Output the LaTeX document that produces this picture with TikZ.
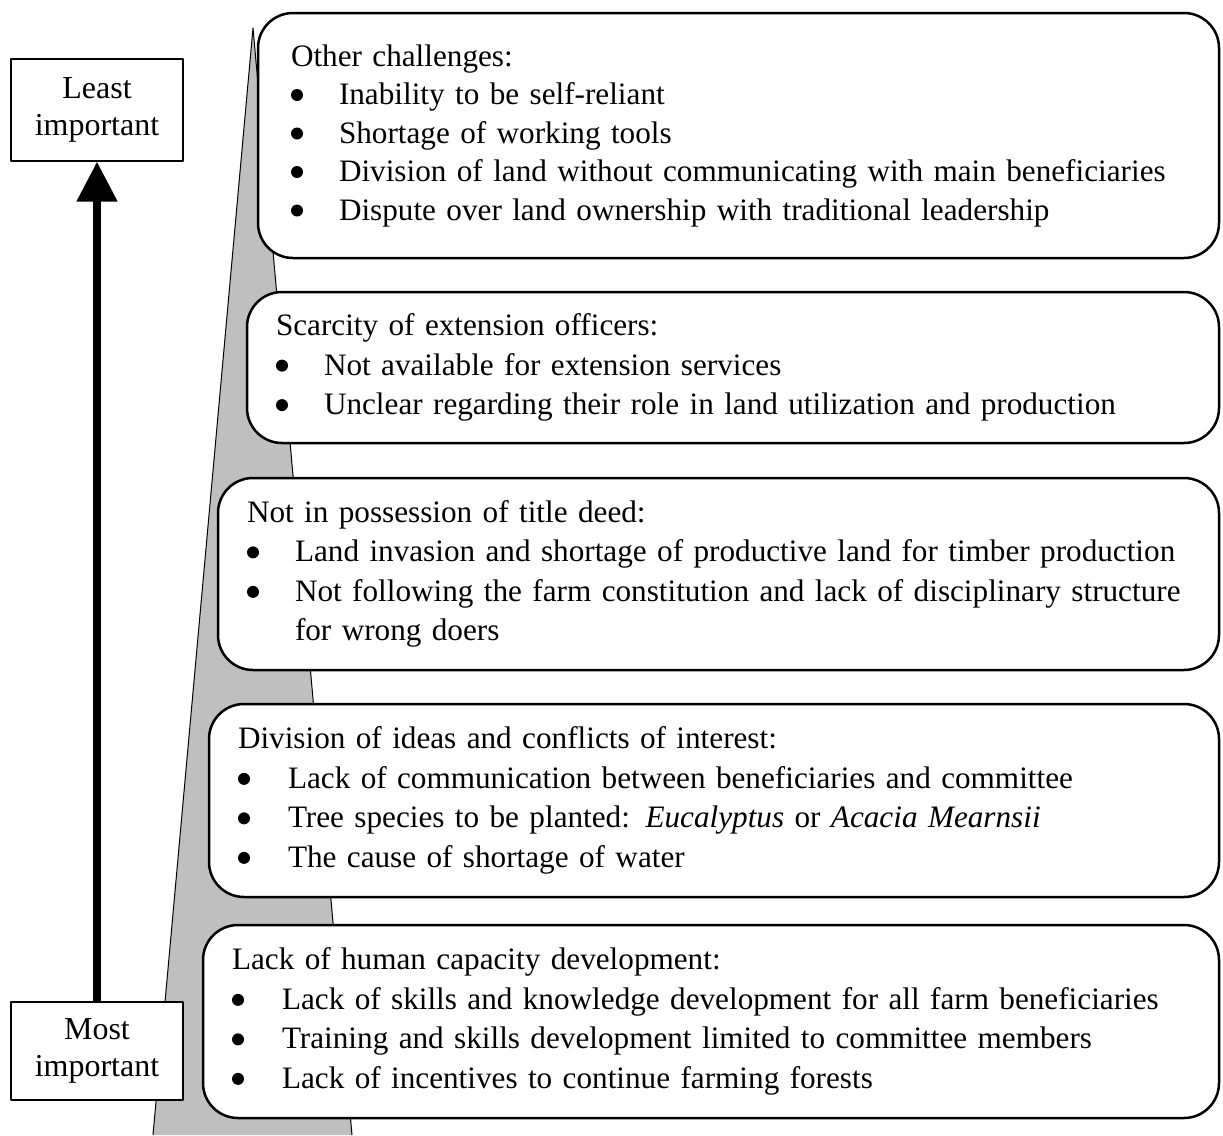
\documentclass[tikz,border=0pt]{standalone}
\usepackage{fontspec}
\setmainfont{Liberation Serif}
\usetikzlibrary{arrows.meta}
\hyphenpenalty=10000

% round bullet and bullet line with hanging indent
\newcommand\dotmark{\raisebox{3.5pt}{\tikz\fill (0,0) circle (6pt);}}
\newcommand\bitem[2][48pt]{\par\hangindent=#1\hangafter=1\noindent\makebox[#1][l]{\dotmark}#2\par}

\begin{document}
\begin{tikzpicture}[x=1pt, y=-1pt, line join=round,
  rank/.style={draw, line width=1.2pt, fill=white, minimum width=172pt, minimum height=100pt,
    align=center, inner sep=0pt, font=\fontsize{32}{37}\selectfont},
  issue/.style={draw, line width=2.5pt, rounded corners=35pt, fill=white, align=left,
    inner xsep=29pt, inner ysep=0pt, font=\fontsize{31.2}{39.5}\selectfont}]

  \useasboundingbox (0,0) rectangle (1223,1135);

  % importance wedge
  \fill[gray!50] (253,28) -- (153,1135) -- (352,1135) -- cycle;
  \draw[line width=1pt] (153,1135) -- (253,28) -- (352,1135);

  % challenges, least to most important
  \node[issue, inner xsep=33pt, text width=895pt, minimum height=245pt,
    font=\fontsize{31.2}{38.5}\selectfont] (other) at (738.5,135.5) {%
    \noindent Other challenges:
    \bitem{Inability to be self-reliant}
    \bitem{Shortage of working tools}
    \bitem{Division of land without communicating with main beneficiaries}
    \bitem{Dispute over land ownership with traditional leadership}};
  \node[issue, text width=914pt, minimum height=151pt] (officers) at (733,367.5) {%
    \noindent Scarcity of extension officers:
    \bitem{Not available for extension services}
    \bitem{Unclear regarding their role in land utilization and production}};
  \node[issue, text width=943pt, minimum height=192pt] (deed) at (718.5,574) {%
    \noindent Not in possession of title deed:
    \bitem{Land invasion and shortage of productive land for timber production}
    \bitem{\mbox{Not following the farm constitution and lack of disciplinary structure}\hfil\break for wrong doers}};
  \node[issue, text width=952pt, minimum height=193pt] (ideas) at (714,800.5) {%
    \noindent Division of ideas and conflicts of interest:
    \bitem[50pt]{Lack of communication between beneficiaries and committee}
    \bitem[50pt]{Tree species to be planted: \textit{Eucalyptus} or \textit{Acacia Mearnsii}}
    \bitem[50pt]{The cause of shortage of water}};
  \node[issue, text width=958pt, minimum height=193pt] (capacity) at (711,1021.5) {%
    \noindent Lack of human capacity development:
    \bitem[50pt]{Lack of skills and knowledge development for all farm beneficiaries}
    \bitem[50pt]{Training and skills development limited to committee members}
    \bitem[50pt]{Lack of incentives to continue farming forests}};

  % ranking scale
  \node[rank, minimum height=102pt] (least) at (97,110) {Least\\important};
  \node[rank, minimum height=98pt] (most) at (97,1051) {Most\\important};
  \draw[line width=8pt, -{Triangle[width=39pt, length=40pt]}] (most) -- (least);

\end{tikzpicture}
\end{document}
